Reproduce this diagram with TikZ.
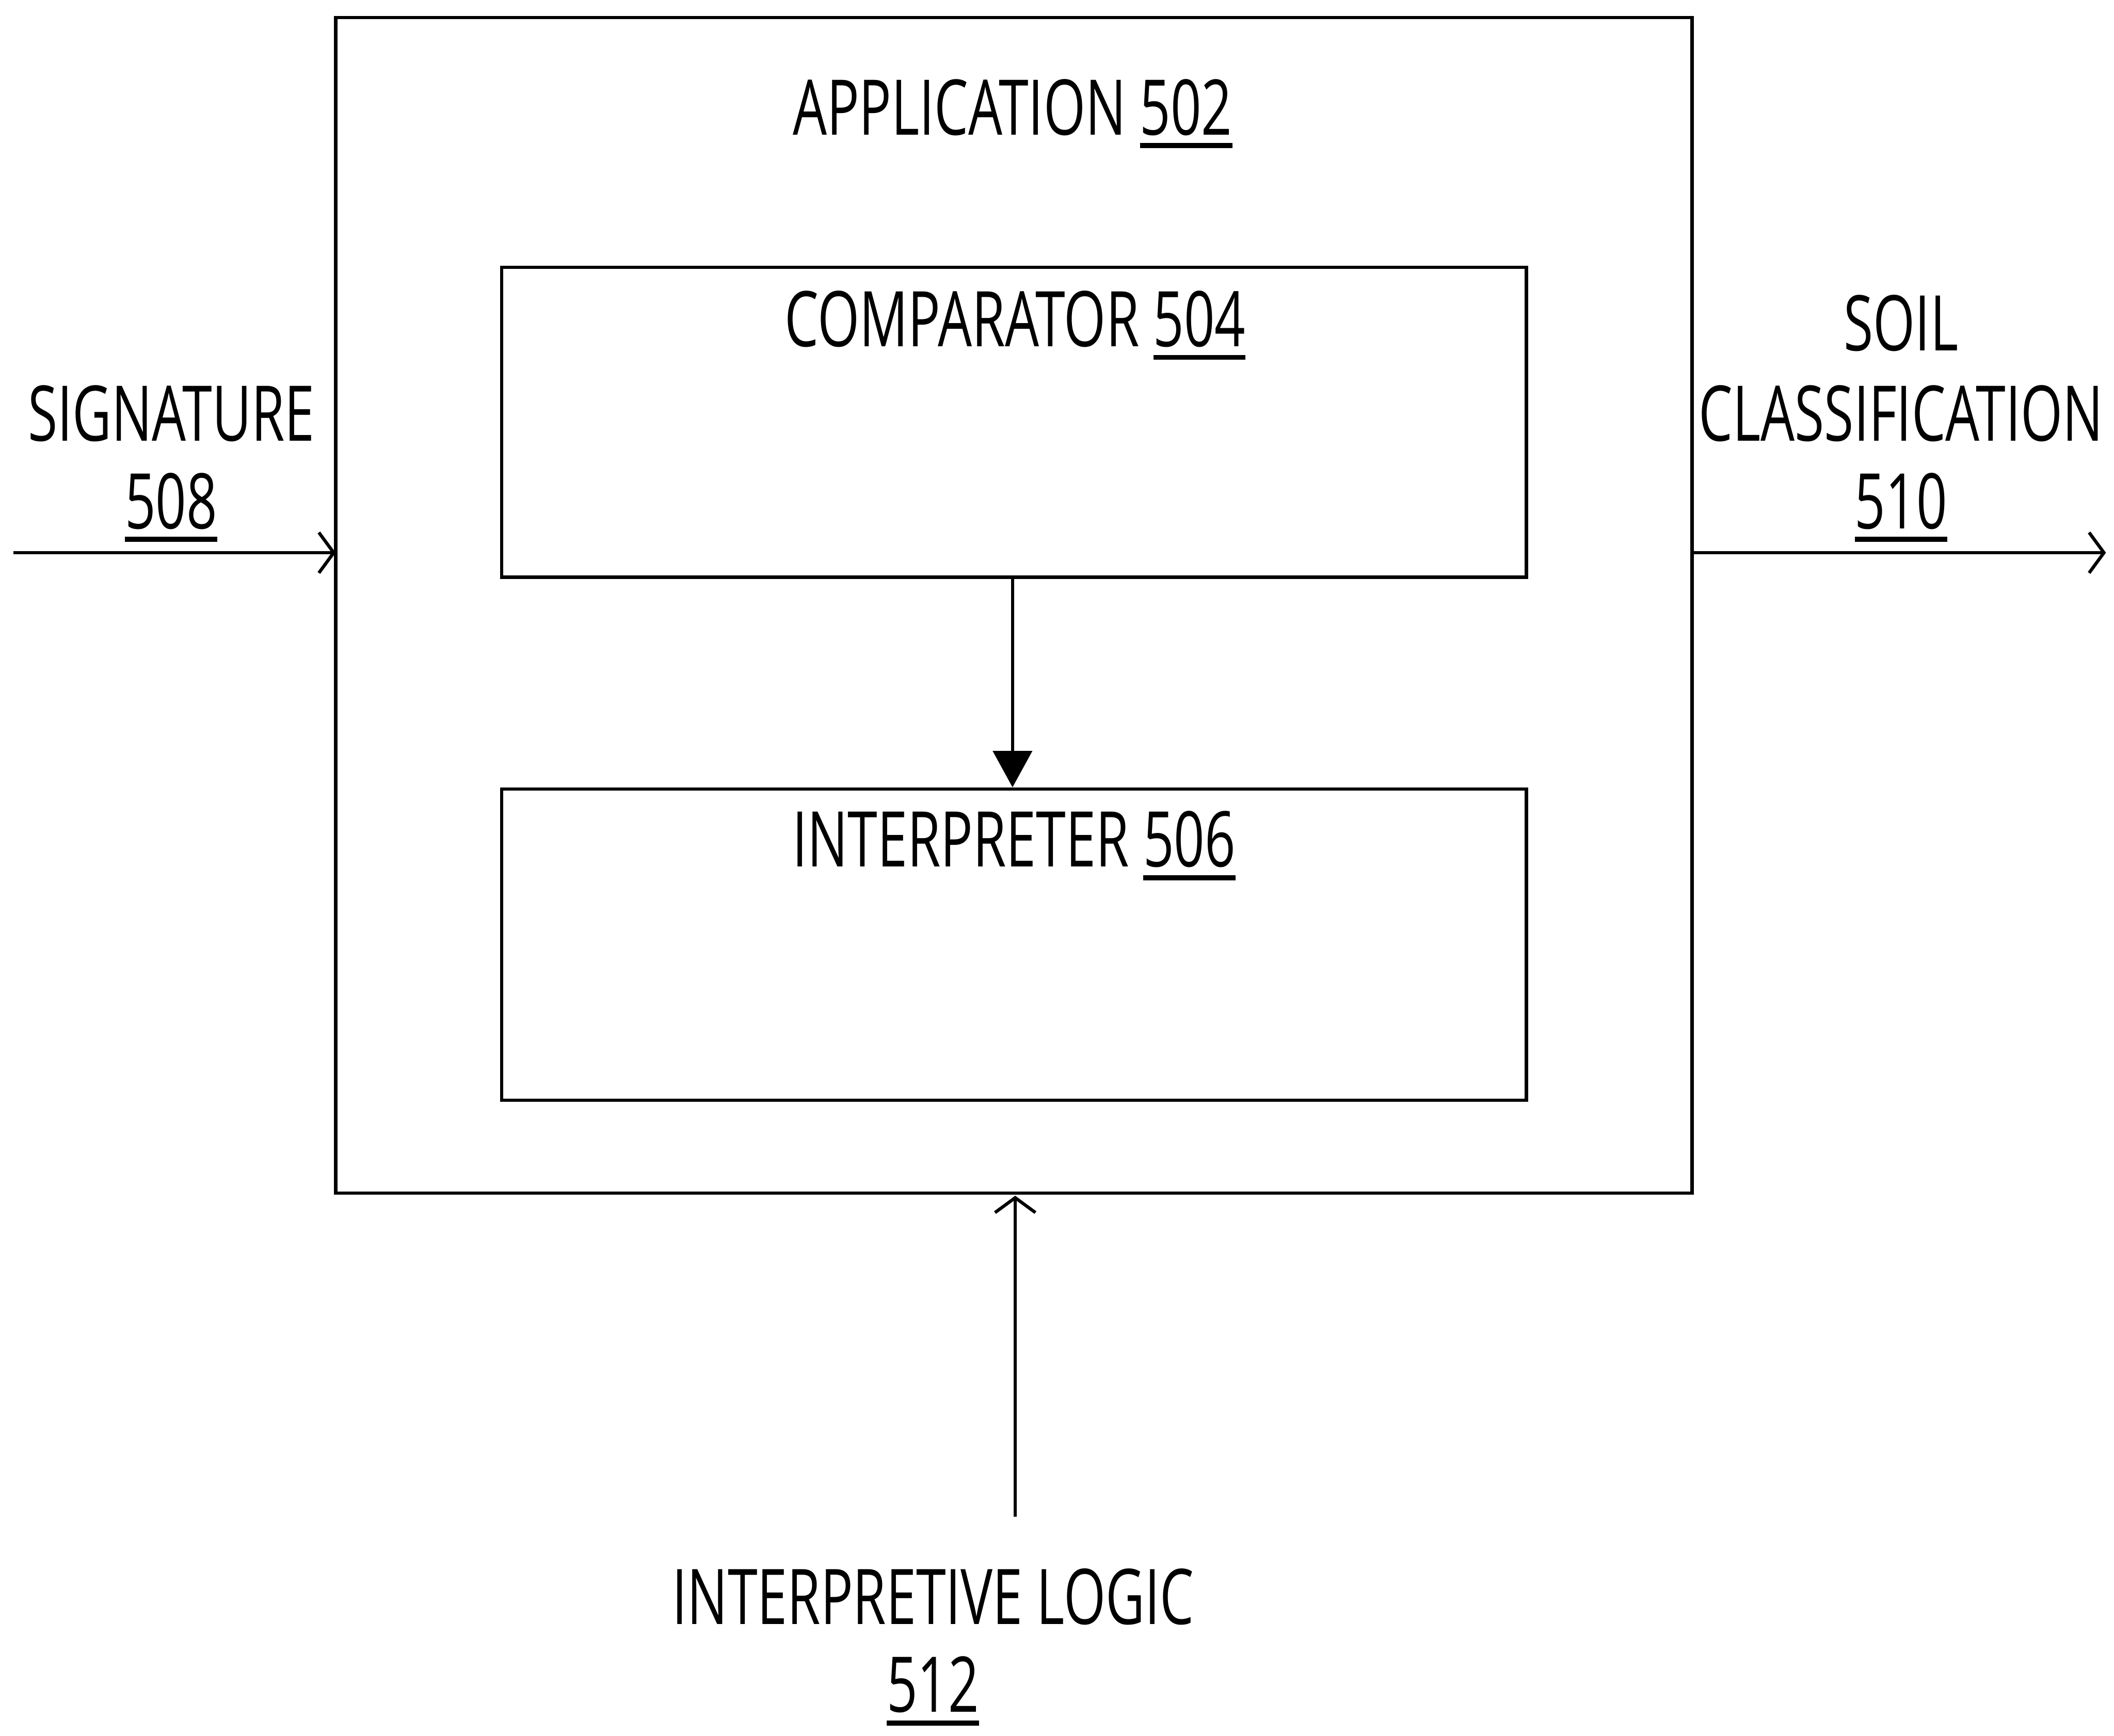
\documentclass[tikz,border=0pt]{standalone}
\usepackage{fontspec}
\setmainfont[FakeStretch=0.70]{Open Sans}
\usetikzlibrary{arrows.meta}
\newcommand{\refnum}[1]{\setbox0\hbox{#1}\rlap{\rule[-10pt]{\wd0}{3.8pt}}\box0}
\tikzset{
  box/.style={draw, line width=2.4pt},
  wire/.style={line width=2.2pt},
  openarrow/.style={wire, -{Straight Barb[length=11pt,width=30pt,line width=2.4pt]}},
  solidarrow/.style={wire, -{Triangle[length=27pt,width=29pt]}},
  lbl/.style={anchor=base, inner sep=0pt, font=\fontsize{57}{67}\selectfont}
}
\begin{document}
\begin{tikzpicture}[x=1pt, y=-1pt]
  \useasboundingbox (0,0) rectangle (1568,1287.4);
  % application container and its two blocks
  \draw[box] (249,13) rectangle (1255,885);
  \node[box, minimum width=760pt, minimum height=230pt, anchor=north west, inner sep=0pt] (comp) at (371,197) {};
  \node[box, minimum width=760pt, minimum height=231pt, anchor=north west, inner sep=0pt] (interp) at (371,584) {};
  \coordinate (appW) at (249,410);
  \coordinate (appE) at (1255,410);
  \coordinate (appS) at (753,887);

  \node[lbl] (applbl) at (751,100) {APPLICATION \refnum{502}};
  \node[lbl] (complbl) at (753,257) {COMPARATOR \refnum{504}};
  \node[lbl] (interplbl) at (752,643) {INTERPRETER \refnum{506}};

  % comparator feeds the interpreter
  \draw[solidarrow] (comp.south -| 751,0) -- (interp.north -| 751,0);

  % signature input
  \coordinate (sigstart) at (10,410);
  \draw[openarrow] (sigstart) -- (appW);
  \node[lbl] (sig1) at (127,327) {SIGNATURE};
  \node[lbl] (sig2) at (127,392) {\refnum{508}};

  % soil classification output
  \coordinate (soilend) at (1562,410);
  \draw[openarrow] (appE) -- (soilend);
  \node[lbl] (soil1) at (1410,260) {SOIL};
  \node[lbl] (soil2) at (1410,327) {CLASSIFICATION};
  \node[lbl] (soil3) at (1410,392) {\refnum{510}};

  % interpretive logic input
  \coordinate (logicstart) at (753,1125);
  \draw[openarrow] (logicstart) -- (appS);
  \node[lbl] (logic1) at (692,1205) {INTERPRETIVE LOGIC};
  \node[lbl] (logic2) at (692,1270) {\refnum{512}};
\end{tikzpicture}
\end{document}
